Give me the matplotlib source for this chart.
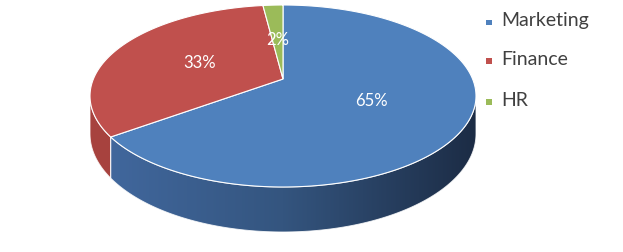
import numpy as np
import matplotlib
matplotlib.use('Agg')
import matplotlib.pyplot as plt
from matplotlib.patches import Polygon, Rectangle
from matplotlib.colors import LinearSegmentedColormap

labels = ['Marketing', 'Finance', 'HR']
values = [65, 33, 2]
pct_labels = ['65%', '33%', '2%']
top_colors = ['#4F81BD', '#C0504D', '#9BBB59']
side_colors = [['#4269A0', '#34557F', '#1C2C45'], ['#A8433F', '#A0403C'], ['#7F9A48', '#6F8A3E']]

# screen geometry of the pie (pixels)
CX = 283.0
Y_BACK, Y_FRONT, Y_CENTER = 6.0, 188.0, 80.0
HALF_W = 193.0
DEPTH_FRONT = 45.0

# perspective: y(v) = (P + Q v) / (1 + G v), with y(1)=Y_BACK, y(-1)=Y_FRONT, y(0)=Y_CENTER
P = Y_CENTER
G = ((Y_FRONT - Y_CENTER) - (Y_CENTER - Y_BACK)) / (Y_FRONT - Y_BACK)
Q = Y_BACK * (1 + G) - Y_CENTER
A = HALF_W * np.sqrt(1 - G ** 2)
H = DEPTH_FRONT * (1 - G)


def project(u, v, drop=0.0):
    w = 1 + G * v
    return CX + A * u / w, (P + Q * v) / w + drop * H / w


def arc(a0, a1, r=1.0, drop=0.0, n=200):
    t = np.radians(np.linspace(a0, a1, n))
    return project(r * np.cos(t), r * np.sin(t), drop)


fig = plt.figure(figsize=(6.23, 2.53), dpi=100)
ax = fig.add_axes([0, 0, 1, 1])

# wedge angles, clockwise from 12 o'clock
fracs = np.array(values, dtype=float) / sum(values)
starts = 90 - 360 * np.concatenate([[0], np.cumsum(fracs)[:-1]])
ends = starts - 360 * fracs

# visible part of the rim: between the two silhouette points
sil = np.degrees(np.arcsin(-G))
vis_lo, vis_hi = 180 - sil, 360 + sil

pie_x0, pie_x1 = CX - HALF_W, CX + HALF_W
for i in range(len(values)):
    lo, hi = ends[i], starts[i]
    k = np.floor(lo / 360)
    lo, hi = lo - 360 * k, hi - 360 * k
    a0, a1 = max(lo, vis_lo), min(hi, vis_hi)
    if a1 <= a0:
        continue
    tx, ty = arc(a0, a1)
    bx, by = arc(a1, a0, drop=1.0)
    pts = np.column_stack([np.concatenate([tx, bx]), np.concatenate([ty, by])])
    poly = Polygon(pts, closed=True, facecolor='none', edgecolor='none')
    ax.add_patch(poly)
    cmap = LinearSegmentedColormap.from_list('side%d' % i, side_colors[i])
    img = ax.imshow(np.linspace(0, 1, 256)[None, :], cmap=cmap, aspect='auto',
                    extent=(pie_x0, pie_x1, by.max() + 2, ty.min() - 2), zorder=1)
    img.set_clip_path(poly)
    ax.add_patch(Polygon(pts, closed=True, facecolor='none', edgecolor='white',
                         lw=0.7, alpha=0.8, zorder=2))

# top face
cx0, cy0 = project(0.0, 0.0)
for i in range(len(values)):
    ax_, ay_ = arc(starts[i], ends[i])
    pts = np.column_stack([np.concatenate([[cx0], ax_]), np.concatenate([[cy0], ay_])])
    ax.add_patch(Polygon(pts, closed=True, facecolor=top_colors[i], edgecolor='white',
                         lw=0.8, zorder=3))

# percentage labels, halfway out along each wedge
for i in range(len(values)):
    mid = np.radians((starts[i] + ends[i]) / 2)
    lx, ly = project(0.5 * np.cos(mid), 0.5 * np.sin(mid))
    ax.text(lx, ly, pct_labels[i], color='white', fontsize=12, family='Lato',
            ha='center', va='center', zorder=4)

# legend
leg_baselines = [26, 64.5, 105.5]
for i in range(len(labels)):
    ax.add_patch(Rectangle((486, leg_baselines[i] - 5.5), 5.5, 5.5,
                           facecolor=top_colors[i], edgecolor='none'))
    ax.text(501.5, leg_baselines[i], labels[i], color='#404040', fontsize=14,
            family='Lato', ha='left', va='baseline')

ax.set_xlim(0, 623)
ax.set_ylim(253, 0)
ax.axis('off')
fig.savefig('out.png', dpi=100)
